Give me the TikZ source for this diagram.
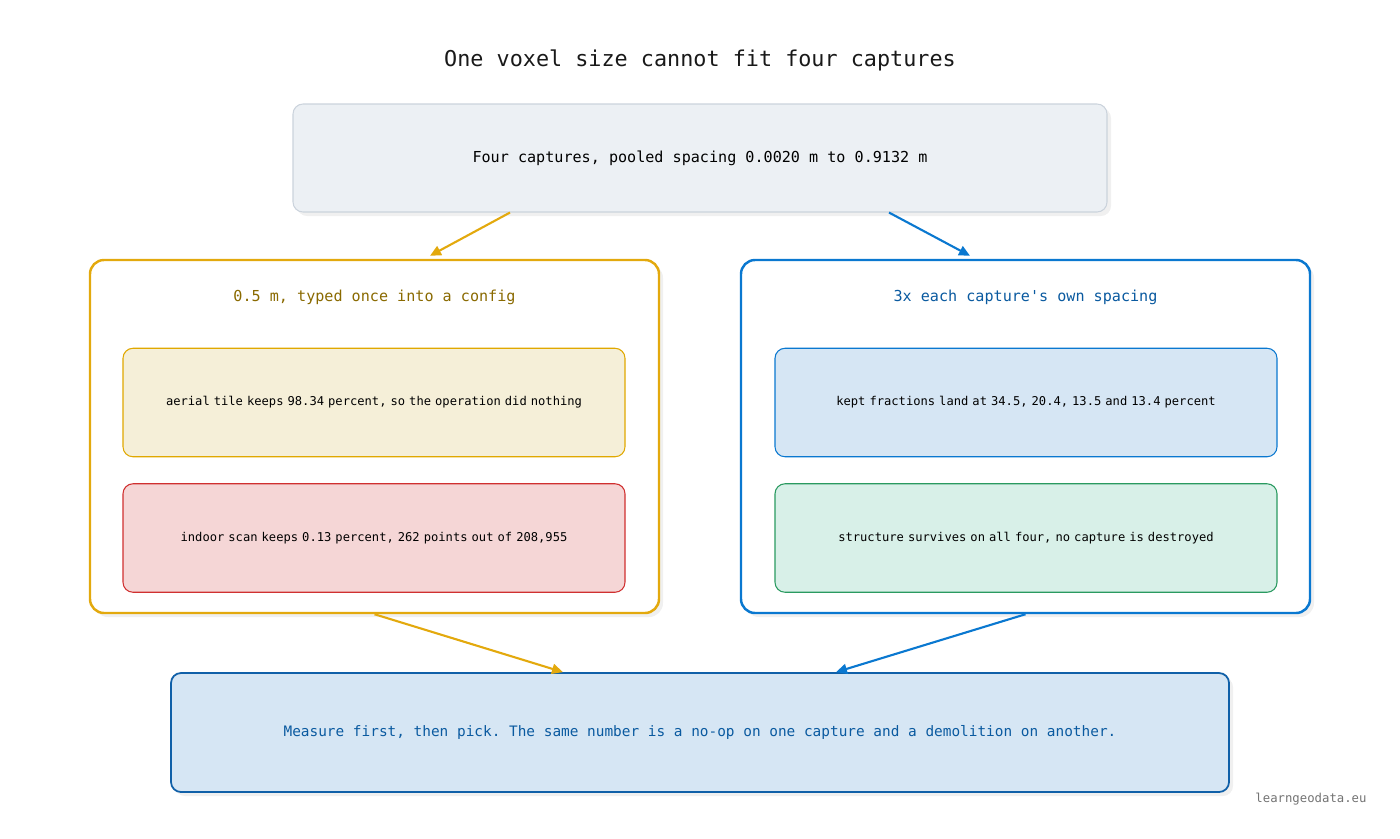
\documentclass[tikz,border=0pt]{standalone}
\usepackage{fontspec}
\setmonofont{DejaVu Sans Mono}
\usetikzlibrary{positioning,calc,shadows,arrows.meta}
\definecolor{gold}{HTML}{E3A90D}
\definecolor{goldtext}{HTML}{8A6A00}
\definecolor{azure}{HTML}{0A78D0}
\definecolor{azuretext}{HTML}{0A5AA0}
\definecolor{navy}{HTML}{1060A8}
\definecolor{slatefill}{HTML}{ECF0F4}
\definecolor{slateline}{HTML}{CBD3DC}
\definecolor{sandfill}{HTML}{F5EFD8}
\definecolor{sandline}{HTML}{E0A800}
\definecolor{rosefill}{HTML}{F5D6D6}
\definecolor{roseline}{HTML}{D03030}
\definecolor{skyfill}{HTML}{D6E6F4}
\definecolor{mintfill}{HTML}{D8F0E8}
\definecolor{mintline}{HTML}{2A9A60}

\begin{document}
\begin{tikzpicture}[
    font=\ttfamily,
    shade/.style={drop shadow={opacity=0.12, shadow xshift=0.08cm, shadow yshift=-0.08cm}},
    block/.style={rectangle, draw, rounded corners=0.2cm, align=center, line width=0.6pt},
    group/.style={rectangle, draw, rounded corners=0.28cm, line width=1.4pt, minimum width=11.38cm, minimum height=7.06cm, shade, fill=white},
    inner/.style={block, minimum width=10.04cm, minimum height=2.17cm, text width=9.4cm, font=\ttfamily\fontsize{6.9}{8.5}\selectfont},
    arrow/.style={-{Triangle[length=0.22cm, width=0.2cm]}, line width=1.2pt}
]
    \useasboundingbox (0,0) rectangle (28,-16.76);

    % Title
    \node[font=\ttfamily\fontsize{12.4}{14}\selectfont, text=black!90] (title) at (14,-1.2) {One voxel size cannot fit four captures};

    % Top box
    \node[block, fill=slatefill, draw=slateline, minimum width=16.28cm, minimum height=2.16cm, shade, font=\ttfamily\fontsize{8.6}{10}\selectfont] (top) at (14,-3.16) {Four captures, pooled spacing 0.0020 m to 0.9132 m};

    % Left group
    \node[group, draw=gold] (lbox) at (7.49,-8.73) {};
    \node[text=goldtext, font=\ttfamily\fontsize{8.6}{10}\selectfont] (lhead) at (7.49,-5.94) {0.5 m, typed once into a config};
    \node[inner, fill=sandfill, draw=sandline] (aerial) at (7.48,-8.05) {aerial tile keeps 98.34 percent, so the operation did nothing};
    \node[inner, fill=rosefill, draw=roseline] (indoor) at (7.48,-10.76) {indoor scan keeps 0.13 percent, 262 points out of 208,955};

    % Right group
    \node[group, draw=azure] (rbox) at (20.51,-8.73) {};
    \node[text=azuretext, font=\ttfamily\fontsize{8.6}{10}\selectfont] (rhead) at (20.51,-5.94) {3x each capture's own spacing};
    \node[inner, fill=skyfill, draw=azure] (kept) at (20.52,-8.05) {kept fractions land at 34.5, 20.4, 13.5 and 13.4 percent};
    \node[inner, fill=mintfill, draw=mintline] (survive) at (20.52,-10.76) {structure survives on all four, no capture is destroyed};

    % Bottom box
    \node[block, fill=skyfill, draw=navy, line width=1pt, minimum width=21.16cm, minimum height=2.38cm, shade, text=azuretext, font=\ttfamily\fontsize{8.2}{10}\selectfont] (bottom) at (14,-14.65) {Measure first, then pick. The same number is a no-op on one capture and a demolition on another.};

    % Connections
    \draw[arrow, gold] ([xshift=-3.8cm]top.south) -- ([xshift=1.11cm, yshift=0.06cm]lbox.north);
    \draw[arrow, azure] ([xshift=3.78cm]top.south) -- ([xshift=-1.11cm, yshift=0.06cm]rbox.north);
    \draw[arrow, gold] (lbox.south) -- ([xshift=-2.74cm]bottom.north);
    \draw[arrow, azure] (rbox.south) -- ([xshift=2.72cm]bottom.north);

    % Footer
    \node[text=black!55, font=\ttfamily\fontsize{7}{8}\selectfont] (credit) at (26.22,-15.98) {learngeodata.eu};
\end{tikzpicture}
\end{document}
